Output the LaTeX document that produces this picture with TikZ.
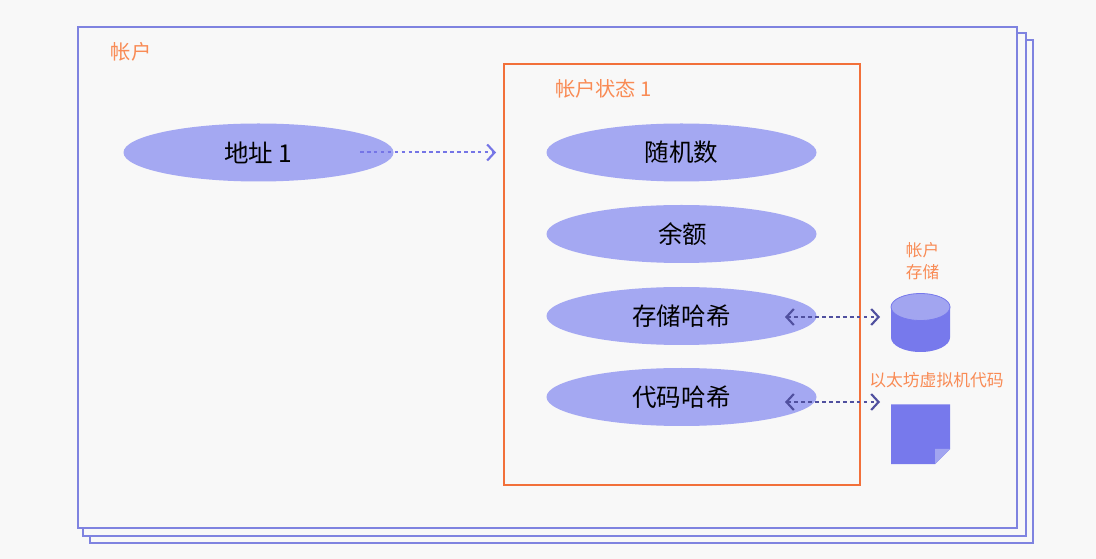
\documentclass[tikz,border=0pt]{standalone}
\usepackage{fontspec}
\setmainfont{Noto Sans CJK SC}
\usetikzlibrary{arrows.meta,shapes.geometric}
\definecolor{bgc}{HTML}{F8F8F8}
\definecolor{acct}{HTML}{7F83E0}
\definecolor{orangeline}{HTML}{F2703A}
\definecolor{orangetext}{HTML}{F98B55}
\definecolor{ell}{HTML}{A4A8F2}
\definecolor{solidblue}{HTML}{7779EC}
\definecolor{lightblue}{HTML}{A2A5F0}
\definecolor{darkdash}{HTML}{50509F}
\definecolor{lightdash}{HTML}{7575E6}
\tikzset{
  x=0.75pt,y=-0.75pt,
  acctbox/.style={draw=acct,line width=1.5pt,fill=bgc},
  field/.style={ellipse,fill=ell,minimum width=202.5pt,minimum height=43.5pt,inner sep=0pt,font=\fontsize{18.4}{20}\selectfont,text=black},
  otext/.style={text=orangetext,inner sep=0pt,align=center},
  link/.style={dash pattern=on 2.7pt off 2.5pt,line width=1.5pt},
  chev/.tip={Straight Barb[length=5.5pt,width=12pt,line width=1.6pt]},
}
\begin{document}
\begin{tikzpicture}
\useasboundingbox (0,0) rectangle (1096,559);
\fill[bgc] (0,0) rectangle (1096,559);
\draw[acctbox] (90,40) rectangle (1033,543);
\draw[acctbox] (83,33) rectangle (1025.5,536);
\draw[acctbox] (77.5,27.5) rectangle (1016.5,528);
\node[otext,font=\fontsize{15.2}{17}\selectfont] (acctlabel) at (131,51.5) {帐户};
\draw[orangeline,line width=1.5pt] (503.5,64.5) rectangle (860,485);
\node[otext,font=\fontsize{15.2}{17}\selectfont] (statelabel) at (603.5,89) {帐户状态 1};

\node[field] (addr) at (258.5,152.5) {地址 1};
\node[field] (nonce) at (681.5,152.5) {随机数};
\node[field] (bal) at (681.5,234) {\hspace{2pt}余额};
\node[field] (shash) at (681.5,316) {存储哈希};
\node[field] (chash) at (681.5,397) {代码哈希};

\node[otext,font=\fontsize{12.5}{16.5}\selectfont] (storelabel) at (922.5,261) {帐户\\存储};
\node[otext,font=\fontsize{12.6}{15}\selectfont] (evmlabel) at (936.5,380) {以太坊虚拟机代码};

% storage cylinder
\fill[solidblue] (891,307) -- (891,337.5) arc[start angle=180,end angle=0,x radius=29.5,y radius=14.5] -- (950,307) -- cycle;
\fill[lightblue,draw=solidblue,line width=0.6pt] (920.5,307) ellipse[x radius=29.5,y radius=13.5];
\coordinate (store) at (880,317);

% code document
\fill[solidblue] (891,404.5) -- (950,404.5) -- (950,449) -- (935,464) -- (891,464) -- cycle;
\fill[lightblue] (950,449) -- (935,449) -- (935,464) -- cycle;
\coordinate (code) at (880,402);

\coordinate (addrstart) at (360,152.5);
\coordinate (stateend) at (496,152.5);
\coordinate (sstart) at (785,317);
\coordinate (cstart) at (785,402);
\draw[link,lightdash,-chev] (addrstart) -- (stateend);
\draw[link,darkdash,chev-chev] (sstart) -- (store);
\draw[link,darkdash,chev-chev] (cstart) -- (code);
\end{tikzpicture}
\end{document}
